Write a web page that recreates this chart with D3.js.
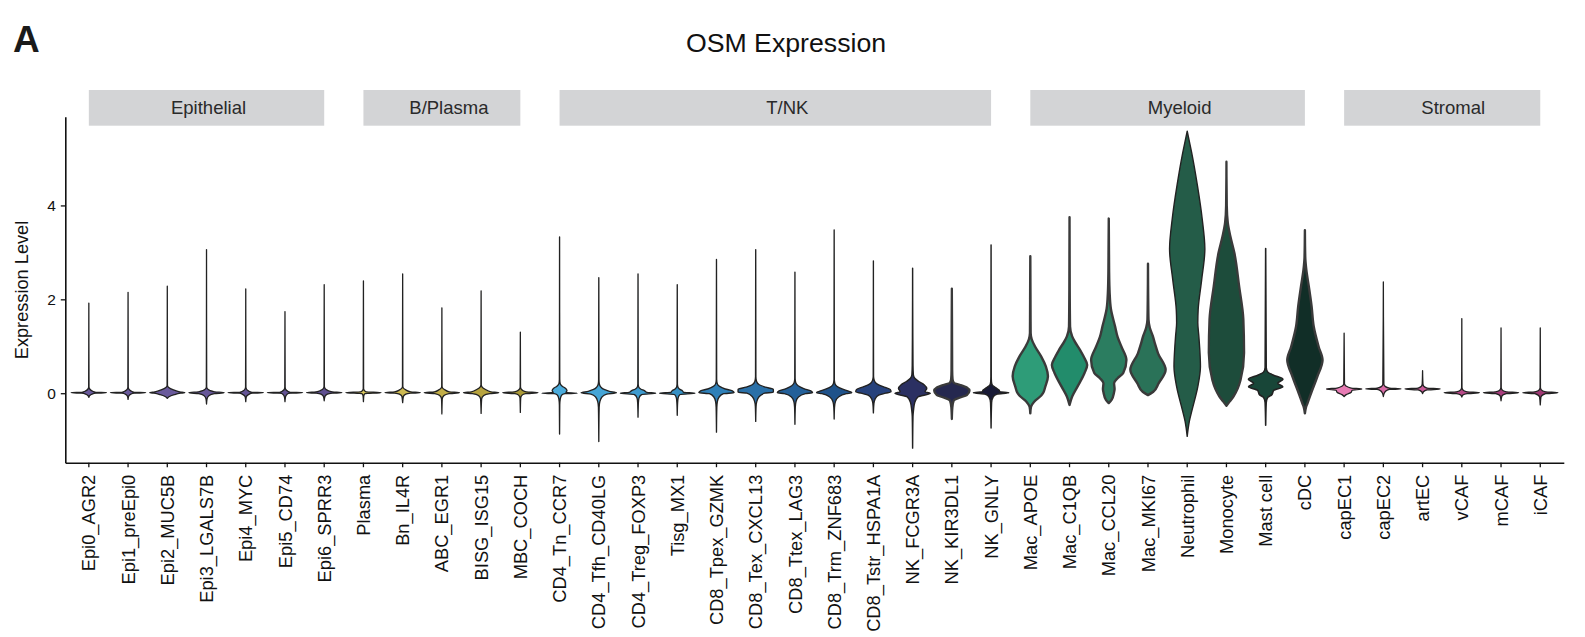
<!DOCTYPE html>
<html>
<head>
<meta charset="utf-8">
<script src="https://cdn.jsdelivr.net/npm/d3@7"></script>
<style>
  body { margin: 0; background: #fff; }
  svg { display: block; }
  text { font-family: "Liberation Sans", Arial, Helvetica, sans-serif; }
</style>
</head>
<body>
<svg id="chart" width="1585" height="637"></svg>
<script>
// ---- cell types, in plotting order ----
const categories = [
  "Epi0_AGR2","Epi1_preEpi0","Epi2_MUC5B","Epi3_LGALS7B","Epi4_MYC","Epi5_CD74","Epi6_SPRR3",
  "Plasma","Bn_IL4R","ABC_EGR1","BISG_ISG15","MBC_COCH",
  "CD4_Tn_CCR7","CD4_Tfh_CD40LG","CD4_Treg_FOXP3","Tisg_MX1","CD8_Tpex_GZMK","CD8_Tex_CXCL13",
  "CD8_Ttex_LAG3","CD8_Trm_ZNF683","CD8_Tstr_HSPA1A","NK_FCGR3A","NK_KIR3DL1","NK_GNLY",
  "Mac_APOE","Mac_C1QB","Mac_CCL20","Mac_MKI67","Neutrophil","Monocyte","Mast cell","cDC",
  "capEC1","capEC2","artEC","vCAF","mCAF","iCAF"
];
const groupNames = ["Epithelial","B/Plasma","T/NK","Myeloid","Stromal"];
const groupSizes = [7, 5, 12, 8, 6];
const yTicks = [0, 2, 4];

// ---- OSM expression density per cell type: [expression level, relative width] ----
const epithelialShapes = [
  [[-0.09,0],[-0.05,0.05],[-0.02,0.18],[0,0.4],[0.01,1],[0.02,0.4],[0.05,0.18],[0.09,0.05],[0.13,0.01],[1.92,0]],
  [[-0.13,0],[-0.06,0.04],[-0.02,0.16],[0,0.35],[0.01,1],[0.02,0.35],[0.05,0.16],[0.09,0.04],[0.13,0.01],[2.15,0]],
  [[-0.11,0],[-0.07,0.12],[-0.03,0.4],[0,0.75],[0.01,1],[0.03,0.7],[0.07,0.35],[0.12,0.08],[0.17,0.01],[2.28,0]],
  [[-0.23,0],[-0.12,0.03],[-0.05,0.15],[-0.01,0.45],[0.01,1],[0.03,0.45],[0.06,0.18],[0.1,0.04],[0.14,0.01],[3.06,0]],
  [[-0.18,0],[-0.08,0.03],[-0.03,0.15],[0,0.35],[0.01,1],[0.02,0.35],[0.05,0.15],[0.09,0.04],[0.13,0.01],[2.22,0]],
  [[-0.18,0],[-0.08,0.03],[-0.02,0.12],[0,0.3],[0.01,1],[0.02,0.3],[0.05,0.13],[0.09,0.03],[0.13,0.01],[1.74,0]],
  [[-0.16,0],[-0.07,0.04],[-0.02,0.18],[0,0.45],[0.01,1],[0.03,0.45],[0.06,0.2],[0.1,0.05],[0.15,0.01],[2.31,0]]
];
const bPlasmaShapes = [
  [[-0.18,0],[-0.06,0.02],[-0.01,0.08],[0.01,1],[0.03,0.15],[0.06,0.05],[0.1,0.01],[2.39,0]],
  [[-0.2,0],[-0.07,0.04],[-0.02,0.18],[0,0.45],[0.01,1],[0.03,0.45],[0.07,0.18],[0.11,0.04],[0.15,0.01],[2.54,0]],
  [[-0.44,0],[-0.12,0.02],[-0.05,0.12],[-0.01,0.4],[0.01,1],[0.03,0.42],[0.07,0.18],[0.11,0.04],[0.15,0.01],[1.82,0]],
  [[-0.43,0],[-0.12,0.03],[-0.05,0.15],[-0.01,0.5],[0.01,1],[0.03,0.55],[0.08,0.25],[0.13,0.06],[0.18,0.01],[2.18,0]],
  [[-0.41,0],[-0.1,0.02],[-0.04,0.1],[-0.01,0.3],[0.01,1],[0.03,0.33],[0.06,0.13],[0.1,0.03],[0.14,0.01],[1.3,0]]
];
const tnkShapes = [
  [[-0.87,0],[-0.25,0.01],[-0.12,0.04],[-0.04,0.12],[-0.01,0.3],[0.0,1],[0.015,0.35],[0.05,0.42],[0.1,0.35],[0.15,0.15],[0.2,0.04],[0.3,0.01],[3.33,0]],
  [[-1.03,0],[-0.3,0.02],[-0.18,0.06],[-0.08,0.18],[-0.02,0.45],[0.01,1],[0.04,0.6],[0.08,0.3],[0.13,0.12],[0.2,0.03],[0.3,0.01],[2.46,0]],
  [[-0.51,0],[-0.2,0.02],[-0.1,0.06],[-0.03,0.2],[0,1],[0.02,0.5],[0.05,0.38],[0.09,0.15],[0.14,0.03],[0.2,0.01],[2.54,0]],
  [[-0.47,0],[-0.2,0.02],[-0.1,0.05],[-0.03,0.15],[0,1],[0.02,0.35],[0.05,0.3],[0.09,0.12],[0.14,0.03],[0.2,0.01],[2.31,0]],
  [[-0.83,0],[-0.3,0.02],[-0.18,0.05],[-0.08,0.15],[-0.01,0.4],[0.01,1],[0.05,0.9],[0.09,0.5],[0.14,0.2],[0.2,0.05],[0.3,0.01],[2.85,0]],
  [[-0.6,0],[-0.28,0.02],[-0.18,0.06],[-0.08,0.18],[0,0.5],[0.02,1],[0.08,1],[0.13,0.55],[0.18,0.2],[0.25,0.05],[0.35,0.01],[3.06,0]],
  [[-0.66,0],[-0.3,0.02],[-0.18,0.06],[-0.08,0.2],[-0.01,0.6],[0.01,1],[0.05,0.9],[0.1,0.5],[0.16,0.18],[0.23,0.04],[0.32,0.01],[2.58,0]],
  [[-0.55,0],[-0.3,0.02],[-0.18,0.07],[-0.08,0.25],[-0.01,0.7],[0.01,1],[0.04,0.85],[0.09,0.45],[0.15,0.15],[0.21,0.04],[0.3,0.01],[3.48,0]],
  [[-0.42,0],[-0.22,0.03],[-0.12,0.1],[-0.04,0.3],[0.0,0.7],[0.03,1],[0.08,0.95],[0.14,0.55],[0.2,0.2],[0.27,0.05],[0.36,0.01],[2.82,0]],
  [[-1.17,0],[-0.5,0.02],[-0.36,0.05],[-0.2,0.12],[-0.08,0.3],[0,1],[0.03,0.7],[0.1,0.8],[0.18,0.65],[0.25,0.35],[0.32,0.12],[0.4,0.04],[0.6,0.02],[1.2,0.01],[2.66,0]],
  [[-0.55,0],[-0.3,0.03],[-0.16,0.1],[-0.1,0.4],[-0.04,0.85],[0.05,1],[0.12,0.85],[0.18,0.45],[0.22,0.12],[0.3,0.04],[0.5,0.02],[1.5,0.01],[2.23,0]],
  [[-0.74,0],[-0.2,0.03],[-0.08,0.12],[-0.02,0.35],[0.01,1],[0.03,0.5],[0.07,0.45],[0.12,0.25],[0.18,0.06],[0.25,0.02],[0.35,0.01],[3.16,0]]
];
const myeloidShapes = [
  [[-0.43,0],[-0.29,0.04],[-0.18,0.22],[-0.05,0.62],[0.0,0.72],[0.14,0.85],[0.36,1],[0.57,0.88],[0.78,0.62],[1.0,0.26],[1.15,0.08],[1.28,0.02],[2.0,0.01],[2.92,0]],
  [[-0.25,0],[-0.07,0.15],[0.14,0.45],[0.43,0.85],[0.6,1],[0.78,0.8],[0.92,0.6],[1.1,0.3],[1.21,0.15],[1.42,0.03],[2.2,0.01],[3.75,0]],
  [[-0.21,0],[-0.14,0.16],[0.02,0.3],[0.09,0.33],[0.21,0.3],[0.32,0.5],[0.43,0.82],[0.71,1],[0.99,0.72],[1.2,0.5],[1.42,0.36],[1.8,0.12],[2.14,0.05],[2.6,0.02],[3.72,0]],
  [[-0.04,0],[0.03,0.3],[0.21,0.6],[0.5,1],[0.85,0.57],[1.05,0.4],[1.21,0.28],[1.4,0.1],[1.57,0.03],[2.1,0.01],[2.76,0]],
  [[-0.92,0],[-0.6,0.12],[-0.35,0.28],[0.14,0.6],[0.57,0.75],[1.0,0.7],[1.21,0.66],[1.5,0.6],[1.78,0.62],[2.42,0.82],[3.07,1],[3.71,0.85],[4.42,0.58],[5.13,0.25],[5.4,0.1],[5.58,0]],
  [[-0.27,0],[-0.18,0.18],[-0.07,0.4],[0.28,0.8],[0.86,1],[1.57,0.96],[2.28,0.72],[2.99,0.45],[3.35,0.22],[3.63,0.08],[4.0,0.02],[4.93,0]],
  [[-0.68,0],[-0.2,0.03],[-0.09,0.12],[-0.03,0.35],[0.06,0.45],[0.14,0.97],[0.21,0.68],[0.3,0.98],[0.39,0.42],[0.45,0.12],[0.55,0.03],[3.08,0]],
  [[-0.43,0],[-0.3,0.06],[-0.21,0.15],[0.0,0.35],[0.35,0.7],[0.71,1],[0.99,0.78],[1.42,0.5],[1.85,0.38],[2.28,0.22],[2.63,0.08],[2.9,0.02],[3.47,0]]
];
const stromalShapes = [
  [[-0.07,0],[-0.03,0.12],[0.02,0.4],[0.06,0.45],[0.09,1],[0.11,0.4],[0.15,0.12],[0.2,0.02],[1.28,0]],
  [[-0.07,0],[0.0,0.05],[0.05,0.15],[0.08,0.35],[0.09,1],[0.11,0.35],[0.14,0.12],[0.19,0.03],[2.37,0]],
  [[-0.01,0],[0.03,0.05],[0.07,0.25],[0.09,1],[0.11,0.25],[0.15,0.06],[0.2,0.02],[0.48,0]],
  [[-0.08,0],[-0.04,0.06],[-0.01,0.3],[0.01,1],[0.03,0.3],[0.07,0.06],[0.12,0.01],[1.59,0]],
  [[-0.16,0],[-0.06,0.05],[-0.01,0.3],[0.01,1],[0.03,0.3],[0.07,0.06],[0.12,0.01],[1.39,0]],
  [[-0.25,0],[-0.08,0.04],[-0.01,0.3],[0.01,1],[0.03,0.3],[0.07,0.06],[0.12,0.01],[1.39,0]]
];
const violinShapes = [].concat(epithelialShapes, bPlasmaShapes, tnkShapes, myeloidShapes, stromalShapes);

// ---- fill colours per cell type ----
const fillColors = [
  "#6a5a9c","#6a5a9c","#6a5a9c","#675799","#645496","#625293","#5f4f90",
  "#d8c65c","#cdb952","#c2ae48","#b8a43f","#ab9a38",
  "#4aabdb","#45a5d6","#3e9bcf","#3690c4","#2f80b8","#2a70a8","#246099","#1f528a","#27427c","#2b3062","#25284f","#181a36",
  "#2e9c78","#228c6b","#2b7d60","#2a7258","#245c48","#1d4c3b","#184638","#112e27",
  "#e77bb4","#d86aa6","#ca5a98","#b84a89","#a93e7e","#a03874"
];
// outline weight per cell type
const outlineWidths = [
  1.3,1.3,1.3,1.3,1.3,1.3,1.3,
  1.3,1.3,1.3,1.3,1.3,
  1.35,1.35,1.35,1.35,1.35,1.35,1.35,1.35,1.35,1.45,2.3,1.45,
  2.4,2.4,2.4,2.4,1.4,2.3,1.6,2.4,
  1.3,1.3,1.3,1.3,1.3,1.3
];
// horizontal nudge of each strip label from the strip centre
const stripLabelNudge = [2, 7, 12, 12, 11];

// ---- layout ----
const svg = d3.select("#chart");
const panel = { left: 65.3, right: 1563.8, top: 116.7, bottom: 462.7 };

const x = d3.scaleBand().domain(categories)
  .range([panel.left, panel.right]).paddingInner(0).paddingOuter(0.1);
const y = d3.scaleLinear().domain([-1.48, 5.89]).range([panel.bottom, panel.top]);
const cx = c => x(c) + x.bandwidth() / 2;
const halfW = x.bandwidth() * 0.45;

// panel letter and title
svg.append("text").attr("x", 13).attr("y", 51.5)
  .attr("font-size", 37).attr("font-weight", "bold").attr("fill", "#1a1a1a").text("A");
svg.append("text").attr("x", 786).attr("y", 52).attr("text-anchor", "middle")
  .attr("font-size", 26.7).attr("fill", "#111").text("OSM Expression");

// group strips spanning first to last member
let start = 0;
groupNames.forEach((g, gi) => {
  const first = categories[start], last = categories[start + groupSizes[gi] - 1];
  const x0 = cx(first), x1 = cx(last);
  svg.append("rect").attr("x", x0).attr("y", 90).attr("width", x1 - x0).attr("height", 35.7)
    .attr("fill", "#d3d4d6");
  svg.append("text").attr("x", (x0 + x1) / 2 + stripLabelNudge[gi]).attr("y", 113.5)
    .attr("text-anchor", "middle")
    .attr("font-size", 18.5).attr("fill", "#2a2a2a").text(g);
  start += groupSizes[gi];
});

// violins
const gV = svg.append("g");
categories.forEach((c, i) => {
  const pts = violinShapes[i].slice().reverse();
  const mid = cx(c);
  const area = d3.area()
    .curve(d3.curveMonotoneY)
    .y(d => y(d[0]))
    .x0(d => mid - d[1] * halfW)
    .x1(d => mid + d[1] * halfW);
  gV.append("path").attr("d", area(pts))
    .attr("fill", fillColors[i])
    .attr("stroke", outlineWidths[i] > 2 ? "#3a3a3a" : "#222")
    .attr("stroke-width", outlineWidths[i])
    .attr("stroke-linejoin", "round");
});

// axes
const yAxis = d3.axisLeft(y).tickValues(yTicks).tickSize(4.5).tickPadding(5).tickSizeOuter(0);
const gy = svg.append("g").attr("transform", `translate(${panel.left},0)`).call(yAxis);
gy.selectAll("text").attr("font-size", 15.5).attr("fill", "#111")
  .style("font-family", '"Liberation Sans", Arial, sans-serif');

const xAxis = d3.axisBottom(x).tickSize(4.5).tickPadding(0).tickSizeOuter(0);
const gx = svg.append("g").attr("transform", `translate(0,${panel.bottom})`).call(xAxis);
gx.selectAll("text")
  .attr("font-size", 18.3).attr("fill", "#111")
  .style("font-family", '"Liberation Sans", Arial, sans-serif')
  .attr("text-anchor", "end")
  .attr("transform", "rotate(-90)")
  .attr("x", -12).attr("y", 0).attr("dy", "0.36em");

[gx, gy].forEach(g => {
  g.select(".domain").attr("stroke", "#111").attr("stroke-width", 1.6);
  g.selectAll(".tick line").attr("stroke", "#111").attr("stroke-width", 1.3);
});

// y axis title
svg.append("text").attr("transform", "translate(28,290) rotate(-90)")
  .attr("text-anchor", "middle").attr("font-size", 18.2).attr("fill", "#111")
  .text("Expression Level");
</script>
</body>
</html>
